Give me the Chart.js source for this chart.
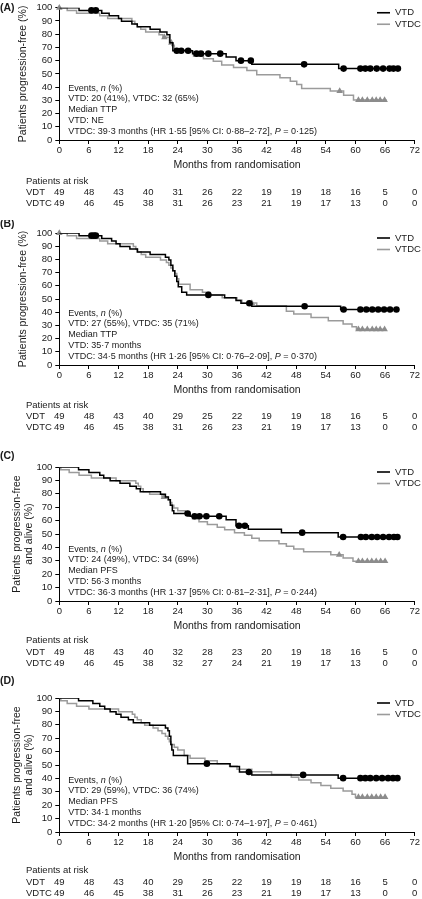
<!DOCTYPE html>
<html>
<head>
<meta charset="utf-8">
<script src="https://cdn.jsdelivr.net/npm/chart.js@4.4.1/dist/chart.umd.min.js"></script>
<style>
  body { margin: 0; background: #fff; width: 422px; height: 899px; position: relative; overflow: hidden; }
  canvas { position: absolute; left: 0; }
</style>
</head>
<body>
<canvas id="cA"></canvas>
<canvas id="cB"></canvas>
<canvas id="cC"></canvas>
<canvas id="cD"></canvas>
<script>
// x axis months (also the columns of the at-risk table)
const months = [0, 6, 12, 18, 24, 30, 36, 42, 48, 54, 60, 66, 72];

// ---- (A) TTP ----
const vtdTimeA = [0, 4.0, 8.6, 10.1, 12.0, 12.6, 14.7, 15.8, 18.4, 20.4, 21.8, 22.4, 23.0, 27.0, 33.8, 35.8, 39.0, 56.6, 68.6];
const vtdSurvA = [100, 98.0, 95.9, 93.9, 91.8, 89.8, 87.8, 85.7, 83.7, 81.6, 79.6, 73.5, 67.5, 65.3, 62.8, 60.0, 57.2, 54.0, 54.0];
const vtdCensA = [6.5, 7.4, 23.8, 24.7, 26.1, 27.8, 28.7, 30.2, 32.6, 36.8, 38.8, 49.6, 57.6, 61.0, 62.0, 63.0, 64.3, 65.6, 66.9, 67.7, 68.6];
const vtdcTimeA = [0, 1.6, 3.5, 8.2, 9.8, 14.7, 15.3, 15.8, 16.5, 17.5, 20.2, 21.0, 22.3, 22.8, 23.3, 26.3, 27.2, 29.2, 31.2, 32.9, 35.3, 38.0, 40.0, 44.7, 46.8, 48.1, 49.1, 54.9, 57.6, 59.6, 66.3];
const vtdcSurvA = [100, 98.0, 95.9, 93.9, 91.8, 89.8, 87.8, 85.7, 83.7, 81.6, 79.6, 77.6, 73.5, 71.4, 68.0, 66.5, 63.3, 61.5, 59.6, 56.8, 54.8, 52.6, 49.4, 47.0, 44.4, 42.0, 39.0, 37.0, 33.8, 30.2, 30.2];
const vtdcCensA = [0, 21.3, 22.7, 56.8, 60.6, 61.4, 62.4, 63.4, 64.2, 65.0, 65.9];
const riskVdtA = [49, 48, 43, 40, 31, 26, 22, 19, 19, 18, 16, 5, 0];
const riskVdtcA = [49, 46, 45, 38, 31, 26, 23, 21, 19, 17, 13, 0, 0];
const notesA = ['Events, {n} (%)', 'VTD: 20 (41%), VTDC: 32 (65%)', 'Median TTP', 'VTD: NE',
  'VTDC: 39·3 months (HR 1·55 [95% CI: 0·88–2·72], {P} = 0·125)'];

// ---- (B) TTP ----
const vtdTimeB = [0, 4.0, 8.6, 10.6, 11.5, 12.3, 14.3, 15.8, 18.4, 21.5, 22.2, 22.6, 23.0, 23.4, 23.8, 24.1, 24.8, 25.8, 33.5, 35.8, 36.8, 39.0, 57.0, 68.6];
const vtdSurvB = [100, 98.0, 95.9, 93.9, 91.8, 89.8, 87.8, 85.7, 83.7, 81.6, 79.6, 75.5, 71.4, 67.3, 63.3, 59.2, 55.1, 53.1, 51.0, 48.9, 46.8, 44.5, 42.0, 42.0];
const vtdCensB = [6.5, 7.0, 7.4, 30.2, 38.5, 49.7, 57.6, 61.0, 62.2, 63.4, 64.6, 65.8, 67.0, 68.3];
const vtdcTimeB = [0, 1.6, 3.5, 8.2, 9.8, 15.0, 15.5, 15.9, 16.6, 17.5, 20.5, 21.7, 22.2, 22.6, 23.0, 23.4, 23.8, 24.2, 26.5, 29.0, 30.5, 33.0, 36.0, 37.0, 40.0, 46.0, 47.5, 51.0, 54.5, 57.5, 59.3, 60.2, 66.2];
const vtdcSurvB = [100, 98.0, 95.9, 93.9, 91.8, 89.8, 87.8, 85.7, 83.7, 81.6, 79.6, 77.6, 75.5, 73.5, 71.4, 69.4, 65.3, 61.2, 57.1, 55.1, 53.1, 51.0, 49.0, 46.9, 44.9, 40.8, 38.7, 36.0, 33.5, 31.0, 29.0, 27.0, 27.0];
const vtdcCensB = [0, 39.0, 60.6, 61.4, 62.4, 63.4, 64.2, 65.0, 65.9];
const riskVdtB = [49, 48, 43, 40, 29, 25, 22, 19, 19, 18, 16, 5, 0];
const riskVdtcB = [49, 46, 45, 38, 31, 26, 23, 21, 19, 17, 13, 0, 0];
const notesB = ['Events, {n} (%)', 'VTD: 27 (55%), VTDC: 35 (71%)', 'Median TTP', 'VTD: 35·7 months',
  'VTDC: 34·5 months (HR 1·26 [95% CI: 0·76–2·09], {P} = 0·370)'];

// ---- (C) PFS ----
const vtdTimeC = [0, 3.9, 6.0, 8.2, 9.0, 10.3, 12.3, 14.3, 15.6, 16.4, 20.5, 21.5, 22.1, 22.5, 22.9, 23.2, 26.5, 33.8, 35.8, 38.3, 45.0, 56.5, 68.6];
const vtdSurvC = [100, 98.0, 95.9, 93.9, 91.8, 89.8, 87.8, 85.7, 83.7, 81.6, 79.6, 77.6, 75.5, 71.4, 67.3, 65.3, 63.2, 60.7, 56.2, 53.5, 51.0, 47.8, 47.8];
const vtdCensC = [26.0, 27.4, 28.4, 29.8, 32.4, 36.4, 37.6, 49.2, 57.5, 61.1, 62.1, 63.3, 64.4, 65.6, 66.8, 67.8, 68.5];
const vtdcTimeC = [0, 0.3, 2.0, 4.0, 6.5, 11.5, 15.5, 16.0, 16.5, 17.0, 18.3, 20.8, 22.0, 22.4, 22.8, 23.2, 24.0, 25.5, 26.2, 27.0, 28.3, 30.0, 32.0, 33.5, 35.5, 37.5, 39.0, 40.5, 44.5, 46.0, 47.5, 49.5, 55.0, 57.5, 59.5, 66.3];
const vtdcSurvC = [100, 98.0, 95.9, 93.9, 91.8, 89.8, 87.8, 85.7, 83.7, 81.6, 79.6, 77.6, 75.5, 73.5, 71.4, 69.4, 67.3, 65.3, 63.2, 61.2, 59.2, 57.1, 55.1, 53.1, 51.0, 49.0, 46.9, 44.9, 42.8, 40.8, 38.8, 36.7, 34.5, 32.0, 29.7, 29.7];
const vtdcCensC = [21.2, 56.7, 60.6, 61.4, 62.4, 63.3, 64.2, 65.1, 66.0];
const riskVdtC = [49, 48, 43, 40, 32, 28, 23, 20, 19, 18, 16, 5, 0];
const riskVdtcC = [49, 46, 45, 38, 32, 27, 24, 21, 19, 17, 13, 0, 0];
const notesC = ['Events, {n} (%)', 'VTD: 24 (49%), VTDC: 34 (69%)', 'Median PFS', 'VTD: 56·3 months',
  'VTDC: 36·3 months (HR 1·37 [95% CI: 0·81–2·31], {P} = 0·244)'];

// ---- (D) PFS ----
const vtdTimeD = [0, 3.9, 6.8, 8.2, 9.2, 10.3, 11.5, 12.5, 14.0, 15.0, 18.3, 21.5, 22.0, 22.3, 22.6, 22.8, 23.1, 26.0, 34.6, 36.5, 39.0, 56.5, 68.6];
const vtdSurvD = [100, 98.0, 95.9, 93.9, 91.8, 89.8, 87.8, 85.7, 83.7, 81.6, 79.6, 77.6, 75.5, 71.4, 65.3, 61.2, 57.1, 51.0, 48.9, 44.8, 42.6, 40.2, 40.2];
const vtdCensD = [29.9, 38.4, 49.4, 57.5, 61.0, 62.0, 63.0, 64.2, 65.4, 66.6, 67.6, 68.5];
const vtdcTimeD = [0, 0.3, 1.6, 3.5, 6.0, 12.0, 14.8, 15.3, 15.8, 16.6, 17.3, 19.0, 20.0, 20.8, 21.5, 22.0, 22.3, 22.6, 23.3, 24.0, 25.3, 26.5, 29.5, 32.0, 34.5, 36.0, 39.0, 43.0, 47.0, 48.5, 51.0, 53.0, 55.0, 57.5, 59.3, 60.0, 66.3];
const vtdcSurvD = [100, 97.9, 95.9, 93.9, 91.8, 89.8, 87.8, 85.7, 83.7, 81.6, 79.6, 77.6, 75.5, 73.5, 71.4, 69.4, 67.3, 65.3, 63.3, 61.2, 57.1, 55.1, 53.1, 51.0, 49.0, 46.9, 44.9, 42.9, 40.8, 38.8, 36.7, 34.7, 32.7, 30.6, 28.1, 26.0, 26.0];
const vtdcCensD = [60.6, 61.4, 62.4, 63.3, 64.2, 65.1, 66.0];
const riskVdtD = [49, 48, 43, 40, 29, 25, 22, 19, 19, 18, 16, 5, 0];
const riskVdtcD = [49, 46, 45, 38, 31, 26, 23, 21, 19, 17, 13, 0, 0];
const notesD = ['Events, {n} (%)', 'VTD: 29 (59%), VTDC: 36 (74%)', 'Median PFS', 'VTD: 34·1 months',
  'VTDC: 34·2 months (HR 1·20 [95% CI: 0·74–1·97], {P} = 0·461)'];

const FONT = '"Liberation Sans", Arial, Helvetica, sans-serif';
const TXT = '#1a1a1a';
const GREY_LINE = '#9b9b9b';
const GREY_MARK = '#8c8c8c';

// panel layout (canvas placement, not data)
const panels = [
  { id: 'cA', tag: '(A)', top: 0,   height: 222, padTop: 5,  plotH: 135, tagY: 8,  riskY: 41,
    yTitle: 'Patients progression-free (%)', titlePad: 17.5,
    vt: vtdTimeA, vs: vtdSurvA, vc: vtdCensA, ct: vtdcTimeA, cs: vtdcSurvA, cc: vtdcCensA,
    r1: riskVdtA, r2: riskVdtcA, notes: notesA },
  { id: 'cB', tag: '(B)', top: 220, height: 226, padTop: 13, plotH: 132, tagY: 4,  riskY: 40,
    yTitle: 'Patients progression-free (%)', titlePad: 17.5,
    vt: vtdTimeB, vs: vtdSurvB, vc: vtdCensB, ct: vtdcTimeB, cs: vtdcSurvB, cc: vtdcCensB,
    r1: riskVdtB, r2: riskVdtcB, notes: notesB },
  { id: 'cC', tag: '(C)', top: 446, height: 226, padTop: 21, plotH: 134, tagY: 10, riskY: 39.5,
    yTitle: ['Patients progression-free', 'and alive (%)'], titlePad: 11,
    vt: vtdTimeC, vs: vtdSurvC, vc: vtdCensC, ct: vtdcTimeC, cs: vtdcSurvC, cc: vtdcCensC,
    r1: riskVdtC, r2: riskVdtcC, notes: notesC },
  { id: 'cD', tag: '(D)', top: 672, height: 227, padTop: 26, plotH: 134, tagY: 9,  riskY: 38.5,
    yTitle: ['Patients progression-free', 'and alive (%)'], titlePad: 11,
    vt: vtdTimeD, vs: vtdSurvD, vc: vtdCensD, ct: vtdcTimeD, cs: vtdcSurvD, cc: vtdcCensD,
    r1: riskVdtD, r2: riskVdtcD, notes: notesD }
];

function curve(t, s) {
  return t.map((v, i) => ({ x: v, y: s[i] }));
}
// censor marks sit on the step curve
function levelAt(t, s, c) {
  let v = s[0];
  for (let i = 0; i < t.length; i++) if (t[i] <= c) v = s[i];
  return v;
}
function marks(t, s, cens) {
  return cens.map(c => ({ x: c, y: levelAt(t, s, c) }));
}

function drawRich(ctx, str, x, y, size) {
  const parts = str.split(/(\{[^}]*\})/);
  for (const part of parts) {
    if (!part) continue;
    const it = part[0] === '{';
    const s = it ? part.slice(1, -1) : part;
    ctx.font = (it ? 'italic ' : '') + size + 'px ' + FONT;
    ctx.fillText(s, x, y);
    x += ctx.measureText(s).width;
  }
}

const kmDecor = {
  id: 'kmDecor',
  afterDraw(chart, args, opts) {
    const p = opts.panel;
    const { ctx, chartArea } = chart;
    const x = chart.scales.x;
    ctx.save();
    ctx.fillStyle = TXT;
    ctx.textBaseline = 'middle';

    // panel tag
    ctx.textAlign = 'left';
    ctx.font = 'bold 10.5px ' + FONT;
    ctx.fillText(p.tag, 0, p.tagY);

    // legend, top right
    const lines = chart.data.datasets.filter(d => d.stepped);
    lines.forEach((d, i) => {
      const ly = chartArea.top + 5 + i * 11.5;
      ctx.strokeStyle = d.borderColor;
      ctx.lineWidth = 1.6;
      ctx.beginPath();
      ctx.moveTo(377, ly);
      ctx.lineTo(390, ly);
      ctx.stroke();
      ctx.font = '9.5px ' + FONT;
      ctx.fillText(d.label, 395, ly);
    });

    // notes block
    const nx = x.getPixelForValue(1.8);
    p.notes.forEach((s, i) => {
      const ny = chartArea.bottom - 8.3 - (p.notes.length - 1 - i) * 10.9;
      drawRich(ctx, s, nx, ny, 9);
    });

    // patients at risk table
    ctx.font = '9.5px ' + FONT;
    const base = chartArea.bottom + p.riskY;
    ctx.textAlign = 'left';
    ctx.fillText('Patients at risk', 26, base);
    ctx.fillText('VDT', 26, base + 11.5);
    ctx.fillText('VDTC', 26, base + 22.5);
    ctx.textAlign = 'center';
    months.forEach((m, i) => {
      const px = x.getPixelForValue(m);
      ctx.fillText(String(p.r1[i]), px, base + 11.5);
      ctx.fillText(String(p.r2[i]), px, base + 22.5);
    });
    ctx.restore();
  }
};

Chart.defaults.font.family = FONT;
Chart.defaults.color = TXT;

panels.forEach(p => {
  const cv = document.getElementById(p.id);
  cv.width = 422;
  cv.height = p.height;
  cv.style.top = p.top + 'px';
  const xAxisH = 31;
  const padBottom = p.height - p.padTop - p.plotH - xAxisH;

  new Chart(cv, {
    type: 'line',
    data: {
      datasets: [
        { label: 'VTD', data: marks(p.vt, p.vs, p.vc), showLine: false, pointStyle: 'circle',
          pointRadius: 3.3, pointBackgroundColor: '#000', pointBorderColor: '#000', pointBorderWidth: 0, clip: false },
        { label: 'VTD', data: curve(p.vt, p.vs), stepped: true, borderColor: '#000', borderWidth: 1.5,
          pointRadius: 0, fill: false },
        { label: 'VTDC', data: marks(p.ct, p.cs, p.cc), showLine: false, pointStyle: 'triangle',
          pointRadius: 3.8, pointBackgroundColor: GREY_MARK, pointBorderColor: GREY_MARK, pointBorderWidth: 0, clip: false },
        { label: 'VTDC', data: curve(p.ct, p.cs), stepped: true, borderColor: GREY_LINE, borderWidth: 1.5,
          pointRadius: 0, fill: false }
      ]
    },
    options: {
      responsive: false,
      animation: false,
      layout: { padding: { left: 0, right: 7.3, top: p.padTop, bottom: padBottom } },
      plugins: {
        legend: { display: false },
        tooltip: { enabled: false },
        kmDecor: { panel: p }
      },
      scales: {
        x: {
          type: 'linear',
          min: 0,
          max: 72,
          afterFit: s => { s.height = xAxisH; },
          border: { color: '#000', width: 1 },
          grid: { drawOnChartArea: false, tickLength: 4, color: '#000', tickWidth: 1 },
          ticks: { stepSize: 6, padding: 2, color: TXT, font: { size: 9.5, lineHeight: 1 }, maxRotation: 0 },
          title: { display: true, text: 'Months from randomisation', color: TXT,
            font: { size: 10.5, lineHeight: 1.15 }, padding: { top: 0, bottom: 0 } }
        },
        y: {
          min: 0,
          max: 100,
          afterFit: s => { s.width = 59.3; },
          border: { color: '#000', width: 1 },
          grid: { drawOnChartArea: false, tickLength: 4, color: '#000', tickWidth: 1 },
          ticks: { stepSize: 10, padding: 3, color: TXT, font: { size: 9.5, lineHeight: 1 } },
          title: { display: true, text: p.yTitle, color: TXT,
            font: { size: 10.5, lineHeight: 1.15 }, padding: { top: p.titlePad, bottom: 0 } }
        }
      }
    },
    plugins: [kmDecor]
  });
});
</script>
</body>
</html>
